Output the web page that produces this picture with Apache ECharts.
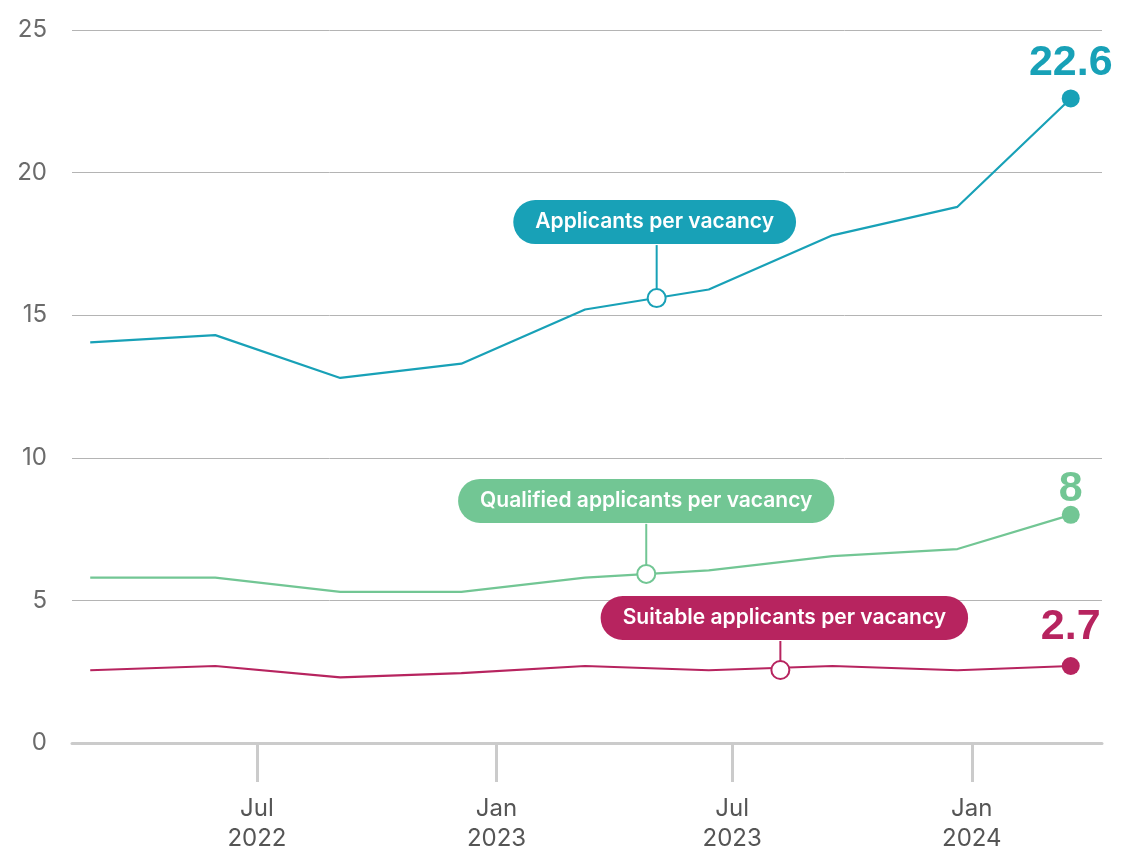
<!DOCTYPE html>
<html>
<head>
<meta charset="utf-8">
<script src="https://cdn.jsdelivr.net/npm/echarts@6/dist/echarts.min.js"></script>
<style>
  html, body { margin: 0; padding: 0; background: #ffffff; }
  #chart { width: 1121px; height: 851px; }
</style>
</head>
<body>
<div id="chart"></div>
<script>
// Survey dates and the three ratios measured at each survey
const surveyDates = ['2022-02-23', '2022-05-30', '2022-09-03', '2022-12-05', '2023-03-10',
                     '2023-06-13', '2023-09-16', '2023-12-21', '2024-03-17'];
const applicants = [14.05, 14.3, 12.8, 13.3, 15.2, 15.9, 17.8, 18.8, 22.6];
const qualified  = [5.8, 5.8, 5.3, 5.3, 5.8, 6.05, 6.55, 6.8, 8];
const suitable   = [2.55, 2.7, 2.3, 2.45, 2.7, 2.55, 2.7, 2.55, 2.7];

const seriesNames = ['Applicants per vacancy', 'Qualified applicants per vacancy', 'Suitable applicants per vacancy'];

// Where each series' name tag is pinned on its line
const calloutDates  = ['2023-05-04', '2023-04-26', '2023-08-07'];
const calloutValues = [15.6, 5.93, 2.56];

// Axis extent and ticks
const axisStart = '2022-02-09';
const axisEnd   = '2024-04-10';
const tickDates  = ['2022-07-01', '2023-01-01', '2023-07-01', '2024-01-01'];
const tickLabels = ['Jul\n2022', 'Jan\n2023', 'Jul\n2023', 'Jan\n2024'];
const yMin = 0, yMax = 25, yStep = 5;

// Styling
const colors = ['#18a1b7', '#72c694', '#b7245f'];
const endLabelDistance = [6, -3, 10];
const calloutDistance = [44, 41, 20];
const calloutOffset = [[-2, 0], [0, 0], [4, 0]];
const MARK = 18;

function toTime(s) {
  const [y, m, d] = s.split('-').map(Number);
  return Date.UTC(y, m - 1, d);
}

const times = surveyDates.map(toTime);
const tickTimes = tickDates.map(toTime);
const allSeries = [applicants, qualified, suitable];

const chart = echarts.init(document.getElementById('chart'), null, { renderer: 'canvas' });

const series = [];
allSeries.forEach((vals, i) => {
  const color = colors[i];
  const last = vals.length - 1;
  series.push({
    name: seriesNames[i],
    type: 'line',
    data: times.map((t, j) => [t, vals[j]]),
    showSymbol: false,
    lineStyle: { color: color, width: 2.2 },
    itemStyle: { color: color },
    silent: true,
    z: 2
  });
  series.push({
    type: 'scatter',
    data: [[times[last], vals[last]]],
    symbol: 'circle',
    symbolSize: MARK,
    itemStyle: { color: color, opacity: 1 },
    silent: true,
    z: 4,
    label: {
      show: true,
      position: 'top',
      distance: endLabelDistance[i],
      formatter: p => String(p.value[1]),
      color: color,
      fontFamily: '"Liberation Sans", Arial, sans-serif',
      fontWeight: 'bold',
      fontSize: 43,
      lineHeight: 40
    }
  });
  series.push({
    type: 'scatter',
    data: [[toTime(calloutDates[i]), calloutValues[i]]],
    symbol: 'circle',
    symbolSize: MARK,
    itemStyle: { color: '#ffffff', borderColor: color, borderWidth: 2, opacity: 1 },
    silent: true,
    z: 5,
    label: {
      show: true,
      position: 'top',
      distance: calloutDistance[i],
      offset: calloutOffset[i],
      formatter: seriesNames[i],
      color: '#ffffff',
      backgroundColor: color,
      borderRadius: 22,
      padding: [10, 22],
      fontFamily: 'Inter, "Noto Sans", sans-serif',
      fontWeight: 600,
      fontSize: 21,
      lineHeight: 24
    }
  });
});

chart.setOption({
  animation: false,
  grid: { left: 72, right: 19, top: 30, bottom: 108, containLabel: false, outerBoundsMode: 'none' },
  xAxis: {
    type: 'value',
    min: toTime(axisStart),
    max: toTime(axisEnd),
    axisLine: { show: true, lineStyle: { color: '#cbcbcb', width: 3 } },
    axisTick: {
      show: true,
      length: 39,
      customValues: tickTimes,
      lineStyle: { color: '#cbcbcb', width: 3 }
    },
    axisLabel: {
      customValues: tickTimes,
      formatter: v => {
        let best = 0;
        tickTimes.forEach((t, k) => { if (Math.abs(t - v) < Math.abs(tickTimes[best] - v)) best = k; });
        return tickLabels[best];
      },
      margin: 51,
      color: '#555555',
      fontFamily: 'Inter, "Noto Sans", sans-serif',
      fontSize: 24,
      lineHeight: 30
    },
    splitLine: { show: false }
  },
  yAxis: {
    type: 'value',
    min: yMin,
    max: yMax,
    interval: yStep,
    axisLine: { show: false },
    axisTick: { show: false },
    axisLabel: {
      margin: 25,
      color: '#6b6b6b',
      fontFamily: 'Inter, "Noto Sans", sans-serif',
      fontSize: 24
    },
    splitLine: { lineStyle: { color: '#b4b4b4', width: 1 } }
  },
  series: series
});

// Leader lines joining each name tag to its pin on the line
const leaders = calloutDates.map((d, i) => {
  const p = chart.convertToPixel({ gridIndex: 0 }, [toTime(d), calloutValues[i]]);
  const top = p[1] - MARK / 2;
  return {
    type: 'line',
    z: 3,
    silent: true,
    shape: { x1: p[0], y1: top, x2: p[0], y2: top - calloutDistance[i] },
    style: { stroke: colors[i], lineWidth: 2 }
  };
});
chart.setOption({ graphic: leaders });
</script>
</body>
</html>
